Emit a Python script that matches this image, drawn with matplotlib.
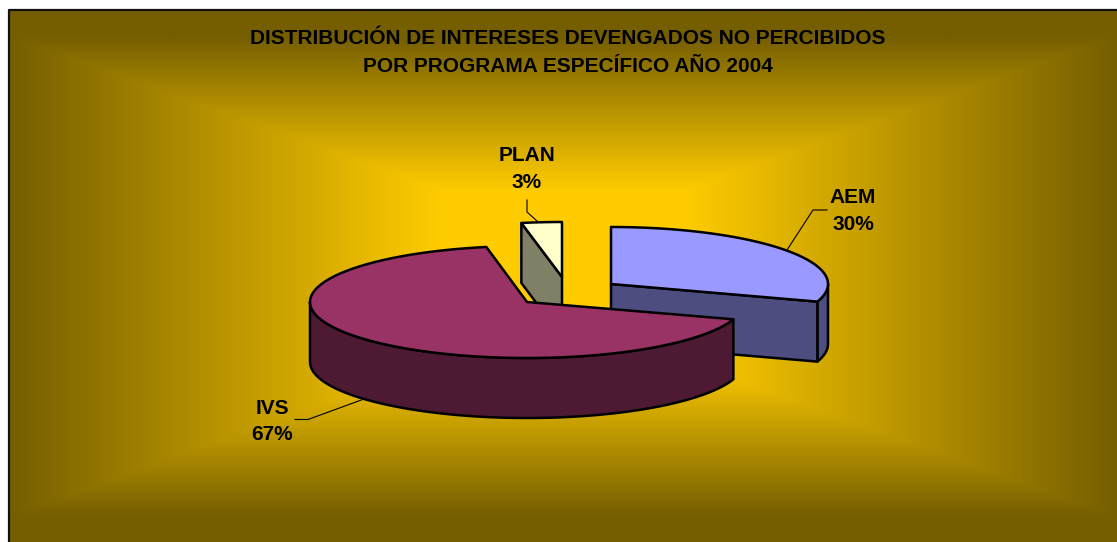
import numpy as np
import matplotlib
matplotlib.use("Agg")
import matplotlib.pyplot as plt
from matplotlib.patches import Polygon

# data
categories = ["AEM", "IVS", "PLAN"]
values = [30, 67, 3]
title_lines = ["DISTRIBUCIÓN DE INTERESES DEVENGADOS NO PERCIBIDOS",
               "POR PROGRAMA ESPECÍFICO AÑO 2004"]

top_colors = ["#9999FF", "#993366", "#FFFFCC"]
side_colors = ["#4D4D80", "#4D1933", "#808066"]

# layout, in pixels of the 1117x542 picture
W, H = 1117, 542
centers = [(611, 284), (527, 302), (562, 277)]
radii_y = [57, 56, 55]
RX = 217
DEPTH = 60
LW = 1.8
FONT = 15.0

plt.rcParams["font.family"] = ["Liberation Sans", "DejaVu Sans"]

fig = plt.figure(figsize=(W / 100, H / 100), dpi=100)
ax = fig.add_axes([0, 0, 1, 1])
ax.set_xlim(0, W)
ax.set_ylim(H, 0)
ax.axis("off")


# Background: rectangular gradient going out from the middle
x0, y0 = 9, 10
gx, gy = np.meshgrid(np.arange(x0, W + 1), np.arange(y0, H + 1))
tx = (np.abs(gx - 563) - 122) / 432
ty = (np.abs(gy - 276) - 85) / 155
t = np.clip(np.maximum(tx, ty), 0, 1)[..., None]
center_col = np.array([255, 204, 0]) / 255
edge_col = np.array([117, 94, 0]) / 255
ax.imshow(center_col * (1 - t) + edge_col * t, extent=(x0, W, H, y0),
          aspect="auto", interpolation="bilinear", zorder=0)
ax.set_xlim(0, W)
ax.set_ylim(H, 0)
ax.plot([x0, x0, W], [H, y0, y0], color="#111111", lw=1.6, zorder=1)


def rim(i, a, b):
    # angles run clockwise from 12 o'clock
    cx, cy = centers[i]
    th = np.radians(np.linspace(a, b, 200))
    return np.column_stack([cx + RX * np.sin(th), cy - radii_y[i] * np.cos(th)])


def poly(points, color, z):
    ax.add_patch(Polygon(points, closed=True, facecolor=color, edgecolor="black",
                         lw=LW, joinstyle="round", zorder=z))


# wedge angles from the values
shares = np.array(values) / sum(values) * 360
ends = np.cumsum(shares)
starts = ends - shares
apex = [np.array(c, dtype=float) for c in centers]
down = np.array([0, DEPTH])

# PLAN, furthest back
a, b = starts[2], ends[2]
edge = rim(2, a, b)[0]
poly([edge, apex[2], apex[2] + down, edge + down], side_colors[2], 2)
poly(np.vstack([apex[2], rim(2, a, b)]), top_colors[2], 3)

# AEM
a, b = starts[0], ends[0]
arc = rim(0, 90, b)
poly(np.vstack([arc, arc[::-1] + down]), side_colors[0], 4)
edge = arc[-1]
poly([apex[0], edge, edge + down, apex[0] + down], side_colors[0], 5)
poly(np.vstack([apex[0], rim(0, a, b)]), top_colors[0], 6)

# IVS, in front
a, b = starts[1], ends[1]
arc = rim(1, a, 270)
poly(np.vstack([arc, arc[::-1] + down]), side_colors[1], 7)
poly(np.vstack([apex[1], rim(1, a, b)]), top_colors[1], 8)

# Title
for txt, y in zip(title_lines, [39, 66]):
    ax.text(568, y, txt, ha="center", va="center", fontsize=FONT, weight="bold",
            color="black", zorder=10)

# Data labels with leader lines
label_pos = {"AEM": (853, 211), "IVS": (272, 421.5), "PLAN": (527, 169)}
leaders = {"AEM": [(827, 210), (813, 210), (787, 250)],
           "IVS": [(295, 419.5), (308, 419.5), (364, 399)],
           "PLAN": [(527, 200), (527, 212), (537, 221)]}
for name, val in zip(categories, values):
    lx, ly = label_pos[name]
    ax.text(lx, ly - 13.5, name, ha="center", va="center", fontsize=FONT, weight="bold", zorder=10)
    ax.text(lx, ly + 13.5, f"{val}%", ha="center", va="center", fontsize=FONT, weight="bold", zorder=10)
    pts = np.array(leaders[name])
    ax.plot(pts[:, 0], pts[:, 1], color="black", lw=0.8, zorder=9)

fig.savefig("out.png", dpi=100)
